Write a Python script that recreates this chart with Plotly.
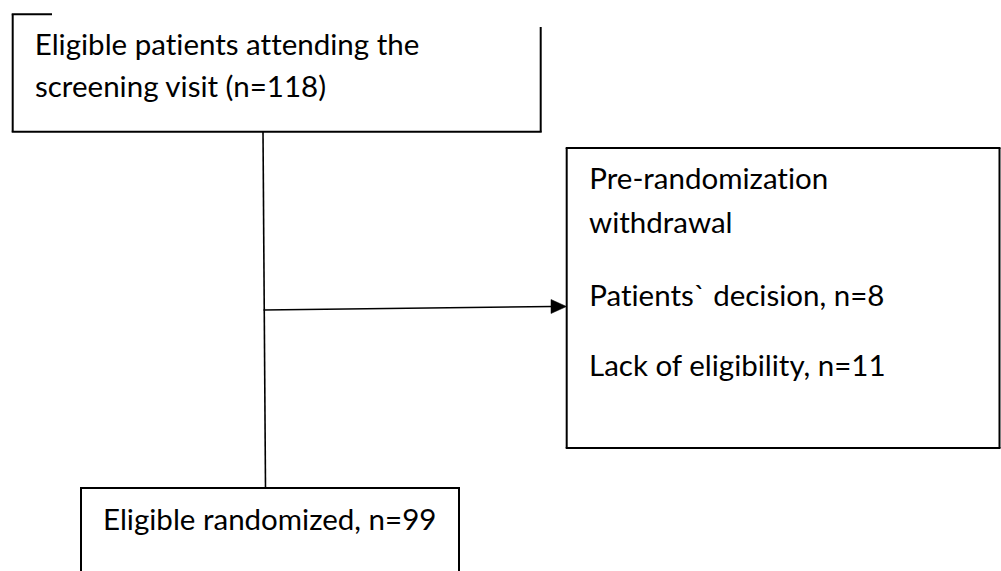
import plotly.graph_objects as go

# ---- content ----
top_lines = ["Eligible patients attending the", "screening visit (n=118)"]
top_baselines = [55, 97]
right_lines = ["Pre-randomization", "withdrawal", "Patients` decision, n=8", "Lack of eligibility, n=11"]
right_baselines = [189, 233, 306, 376]
bottom_lines = ["Eligible randomized, n=99"]
bottom_baselines = [530]

# ---- geometry (pixel space of the page) ----
W, H = 1001, 571
top_box = dict(x0=12.7, x1=540.7, y0=14.3, y1=131.7, topstub=52, right_top=27)
right_box = dict(x0=566.7, x1=999.5, y0=148, y1=448)
bottom_box = dict(x0=81, x1=459, y0=488, y1=H + 5)
text_x = dict(top=33, right=587, bottom=101)
conn_x_top, conn_x_bot = 263, 265.5
arrow = dict(x0=263.5, y0=310, x1=552, y1=306.5, tip=566.5, half=7)

FONT = "Lato"
FS = 29.5
BLACK = "#000000"

fig = go.Figure()
shapes = []

def line(x0, y0, x1, y1, w=2):
    shapes.append(dict(type="line", xref="x", yref="y", x0=x0, y0=y0, x1=x1, y1=y1,
                       line=dict(color=BLACK, width=w)))

# top box (partially drawn as in the source)
tb = top_box
line(tb["x0"] - 1, tb["y0"], tb["topstub"], tb["y0"])
line(tb["x0"], tb["y0"], tb["x0"], tb["y1"])
line(tb["x0"] - 1, tb["y1"], tb["x1"] + 1, tb["y1"])
line(tb["x1"], tb["right_top"], tb["x1"], tb["y1"])

# right box
rb = right_box
line(rb["x0"] - 1, rb["y0"], rb["x1"] + 1, rb["y0"])
line(rb["x0"], rb["y0"], rb["x0"], rb["y1"])
line(rb["x0"] - 1, rb["y1"], rb["x1"] + 1, rb["y1"])
line(rb["x1"], rb["y0"], rb["x1"], rb["y1"])

# bottom box (cut at page bottom)
bb = bottom_box
line(bb["x0"] - 1, bb["y0"], bb["x1"] + 1, bb["y0"])
line(bb["x0"], bb["y0"], bb["x0"], bb["y1"])
line(bb["x1"], bb["y0"], bb["x1"], bb["y1"])

# vertical connector
line(conn_x_top, tb["y1"], conn_x_bot, bb["y0"], w=1.6)

# arrow
a = arrow
line(a["x0"], a["y0"], a["x1"], a["y1"], w=1.6)
shapes.append(dict(type="path", xref="x", yref="y",
                   path=f"M {a['x1']-1},{a['y1']-a['half']} L {a['tip']},{a['y1']} L {a['x1']-1},{a['y1']+a['half']} Z",
                   fillcolor=BLACK, line=dict(color=BLACK, width=0.5)))

annotations = []
def add_text(lines, baselines, x):
    for t, b in zip(lines, baselines):
        annotations.append(dict(x=x, y=b, xref="x", yref="y", text=t, showarrow=False,
                                xanchor="left", yanchor="bottom", yshift=-0.27 * FS,
                                font=dict(family=FONT, size=FS, color=BLACK)))

add_text(top_lines, top_baselines, text_x["top"])
add_text(right_lines, right_baselines, text_x["right"])
add_text(bottom_lines, bottom_baselines, text_x["bottom"])

fig.update_layout(
    width=W, height=H, margin=dict(l=0, r=0, t=0, b=0),
    paper_bgcolor="white", plot_bgcolor="white",
    xaxis=dict(range=[0, W], visible=False, fixedrange=True),
    yaxis=dict(range=[H, 0], visible=False, fixedrange=True),
    shapes=shapes, annotations=annotations, showlegend=False,
)
post = (
    "document.body.style.margin='0px';document.body.style.overflow='hidden';"
    "var s=document.createElement('style');"
    "s.textContent='svg text{font-variant-ligatures:none !important;font-feature-settings:\"liga\" 0, \"clig\" 0 !important;}';"
    "document.head.appendChild(s);"
)
fig.write_html("out.html", config={"displayModeBar": False}, post_script=post)
